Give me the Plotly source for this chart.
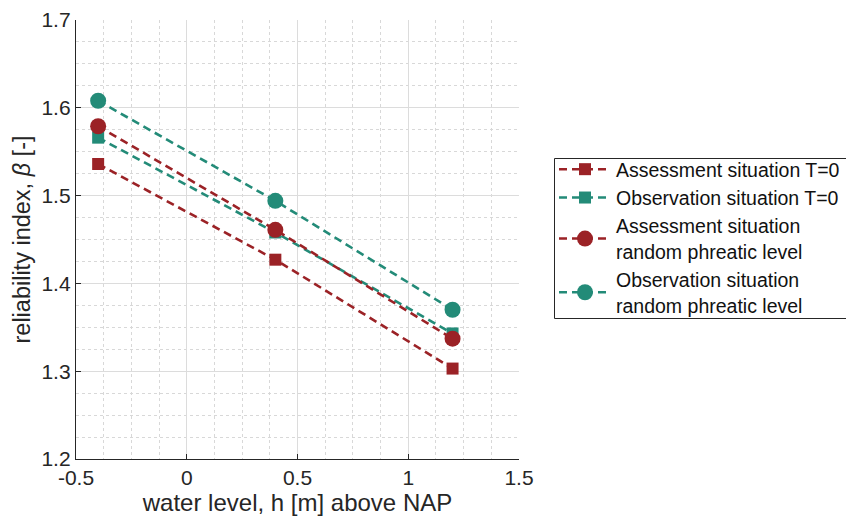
import plotly.graph_objects as go

x_vals = [-0.4, 0.4, 1.2]
assess_t0 = [1.536, 1.427, 1.303]
observ_t0 = [1.566, 1.458, 1.343]
assess_rand = [1.579, 1.461, 1.337]
observ_rand = [1.608, 1.494, 1.370]

names = [
    "Assessment situation T=0",
    "Observation situation T=0",
    "Assessment situation<br>random phreatic level",
    "Observation situation<br>random phreatic level",
]
RED = "#9b2226"
TEAL = "#238b78"
series = [
    (assess_t0, RED, "square", 12),
    (observ_t0, TEAL, "square", 12),
    (assess_rand, RED, "circle", 16),
    (observ_rand, TEAL, "circle", 16),
]

fig = go.Figure()
for (ys, col, sym, sz), nm in zip(series, names):
    fig.add_trace(go.Scatter(
        x=x_vals, y=ys, name=nm, mode="lines+markers",
        line=dict(color=col, width=2.6, dash="8px,5px"),
        marker=dict(color=col, symbol=sym, size=sz),
    ))

FONT = "Liberation Sans, Arial, sans-serif"
TXT = "#262626"

# legend frame (drawn as a paper-referenced rectangle so its height matches)
PLOT_L, PLOT_R, PLOT_T, PLOT_B = 76, 519, 20, 459
def px_x(p):
    return (p - PLOT_L) / (PLOT_R - PLOT_L)
def px_y(p):
    return (PLOT_B - p) / (PLOT_B - PLOT_T)

fig.add_shape(type="rect", xref="paper", yref="paper",
              x0=px_x(554.5), x1=px_x(900), y0=px_y(318.5), y1=px_y(158.5),
              line=dict(color="#262626", width=1), fillcolor="white", layer="above")

fig.update_layout(
    width=846, height=524,
    margin=dict(l=76, r=327, t=20, b=65, autoexpand=False),
    paper_bgcolor="white", plot_bgcolor="white",
    font=dict(family=FONT, size=21, color=TXT),
    showlegend=True,
    legend=dict(
        x=px_x(554), xanchor="left", y=px_y(150), yanchor="top",
        bgcolor="rgba(0,0,0,0)", borderwidth=0,
        font=dict(family=FONT, size=19.5, color="#111111"),
        tracegroupgap=0, itemwidth=52,
    ),
    xaxis=dict(
        range=[-0.5, 1.5], tickvals=[-0.5, 0, 0.5, 1, 1.5],
        ticktext=["-0.5", "0", "0.5", "1", "1.5"],
        showline=True, linecolor=TXT, linewidth=1.3, mirror=False,
        ticks="inside", ticklen=5, tickcolor=TXT,
        showgrid=True, gridcolor="#dcdcdc", gridwidth=1,
        zeroline=False,
        minor=dict(dtick=0.125, tick0=-0.5, showgrid=True, gridcolor="#d8d8d8", griddash="dot", gridwidth=1),
        title=dict(text="water level, h [m] above NAP", font=dict(size=24, color=TXT), standoff=4),
        tickfont=dict(size=21, color=TXT),
    ),
    yaxis=dict(
        range=[1.2, 1.7], tickvals=[1.2, 1.3, 1.4, 1.5, 1.6, 1.7],
        ticktext=["1.2", "1.3", "1.4", "1.5", "1.6", "1.7"],
        showline=True, linecolor=TXT, linewidth=1.3, mirror=False,
        ticks="inside", ticklen=5, tickcolor=TXT,
        showgrid=True, gridcolor="#dcdcdc", gridwidth=1,
        zeroline=False,
        minor=dict(dtick=0.025, tick0=1.2, showgrid=True, gridcolor="#d8d8d8", griddash="dot", gridwidth=1),
        title=dict(text="reliability index, <i>β</i> [-]", font=dict(size=23.5, color=TXT), standoff=4),
        tickfont=dict(size=21, color=TXT),
    ),
)

fig.write_html("out.html")
